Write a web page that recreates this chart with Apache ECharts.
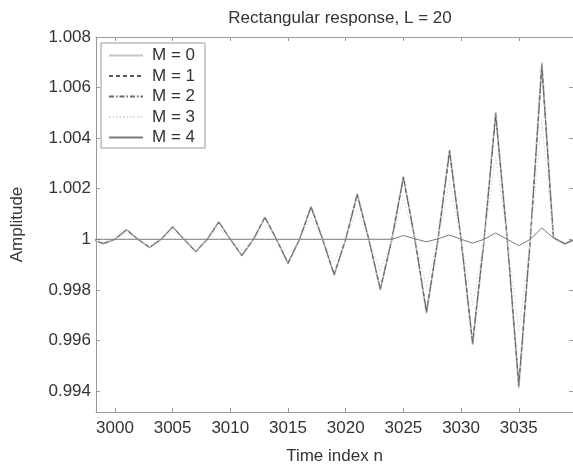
<!DOCTYPE html>
<html>
<head>
<meta charset="utf-8">
<script src="https://cdn.jsdelivr.net/npm/echarts@6/dist/echarts.min.js"></script>
<style>
  html, body { margin: 0; padding: 0; background: #fff; }
  #chart { width: 573px; height: 470px; }
</style>
</head>
<body>
<div id="chart"></div>
<script>
// Sample index n
const timeIndex = [
  2998, 2999, 3000, 3001, 3002, 3003, 3004, 3005, 3006, 3007,
  3008, 3009, 3010, 3011, 3012, 3013, 3014, 3015, 3016, 3017,
  3018, 3019, 3020, 3021, 3022, 3023, 3024, 3025, 3026, 3027,
  3028, 3029, 3030, 3031, 3032, 3033, 3034, 3035, 3036, 3037,
  3038, 3039, 3040
];

// Output amplitude for each order M
const ampM0 = [
  1.0, 0.99983, 1.0, 1.00038, 1.0, 0.99967, 1.0, 1.00049, 1.0, 0.99950,
  1.0, 1.00069, 1.0, 0.99935, 1.0, 1.00088, 1.0, 0.99904, 1.0, 1.00130,
  1.0, 0.99858, 1.0, 1.00180, 1.0, 0.99799, 1.0, 1.00249, 1.0, 0.99707,
  1.0, 1.00354, 1.0, 0.99582, 1.0, 1.00503, 1.0, 0.99411, 1.0, 1.00700,
  1.00007, 0.99982, 1.00005
];
const ampM1 = [
  1.0, 0.99983, 1.0, 1.00038, 1.0, 0.99967, 1.0, 1.00049, 1.0, 0.99951,
  1.0, 1.00068, 1.0, 0.99936, 1.0, 1.00087, 1.0, 0.99905, 1.0, 1.00129,
  1.0, 0.99860, 1.0, 1.00178, 1.0, 0.99802, 1.0, 1.00246, 1.0, 0.99711,
  1.0, 1.00350, 1.0, 0.99588, 1.0, 1.00497, 1.0, 0.99420, 1.0, 1.00690,
  1.00007, 0.99982, 1.00005
];
const ampM2 = [
  1.0, 0.99984, 1.0, 1.00037, 1.0, 0.99968, 1.0, 1.00048, 1.0, 0.99952,
  1.0, 1.00067, 1.0, 0.99937, 1.0, 1.00085, 1.0, 0.99907, 1.0, 1.00126,
  1.0, 0.99863, 1.0, 1.00174, 1.0, 0.99806, 1.0, 1.00240, 1.0, 0.99718,
  1.0, 1.00342, 1.0, 0.99598, 1.0, 1.00485, 1.0, 0.99432, 1.0, 1.00675,
  1.00006, 0.99983, 1.00005
];
const ampM3 = [
  1.0, 0.99989, 1.0, 1.00025, 1.0, 0.99979, 1.0, 1.00032, 1.0, 0.99968,
  1.0, 1.00045, 1.0, 0.99959, 1.0, 1.00057, 1.0, 0.99939, 1.0, 1.00084,
  1.0, 0.99910, 1.0, 1.00117, 1.0, 0.99872, 1.0, 1.00161, 1.0, 0.99813,
  1.0, 1.00229, 1.0, 0.99740, 1.0, 1.00326, 1.0, 0.99635, 1.0, 1.00465,
  1.00005, 0.99986, 1.00004
];
const ampM4 = [
  1.0, 1.0, 1.0, 1.0, 1.0, 1.0, 1.0, 1.0, 1.0, 1.0,
  1.0, 1.0, 1.0, 1.0, 1.0, 1.0, 1.0, 1.0, 1.0, 1.0,
  1.0, 1.0, 1.0, 1.0, 1.0, 1.0, 1.0, 1.00015, 1.00002, 0.99990,
  1.00002, 1.00017, 1.0, 0.99985, 1.0, 1.00025, 1.0, 0.99975, 1.0, 1.00045,
  1.00005, 0.99982, 1.0
];

const seriesNames = ['M = 0', 'M = 1', 'M = 2', 'M = 3', 'M = 4'];

// Axis ticks
const xTicks = [3000, 3005, 3010, 3015, 3020, 3025, 3030, 3035];
const yTicks = [0.994, 0.996, 0.998, 1.0, 1.002, 1.004, 1.006, 1.008];

const titleText = 'Rectangular response, L = 20';
const xLabel = 'Time index n';
const yLabel = 'Amplitude';

const FONT = 'Liberation Sans, Arial, sans-serif';
const AXIS_COLOR = '#9a9a9a';
const TEXT_COLOR = '#333';

function pairs(values) {
  return timeIndex.map((n, i) => [n, values[i]]);
}

const lineStyles = [
  { color: '#c4c4c4', width: 1.8, type: 'solid' },
  { color: '#5a5a5a', width: 1, type: [4, 3] },
  { color: '#6a6a6a', width: 1, type: [5, 2, 1.5, 2] },
  { color: '#d6d6d6', width: 1, type: [1.5, 2] },
  { color: '#7a7a7a', width: 1, type: 'solid' }
];
const seriesData = [ampM0, ampM1, ampM2, ampM3, ampM4];

const chart = echarts.init(document.getElementById('chart'), null, { renderer: 'canvas' });

const X_MIN = 2998.36, X_MAX = 3039.7;
const Y_MIN = 0.99317, Y_MAX = 1.008;

const tickFmt = v => String(+(+v).toFixed(3));

chart.setOption({
  animation: false,
  backgroundColor: '#fff',
  textStyle: { fontFamily: FONT },
  title: {
    text: titleText,
    left: 335,
    top: 5,
    textAlign: 'center',
    textStyle: { fontFamily: FONT, fontSize: 17, fontWeight: 'normal', color: TEXT_COLOR }
  },
  legend: {
    orient: 'vertical',
    left: 101,
    top: 43,
    padding: [4, 10, 2, 7],
    itemWidth: 34,
    itemHeight: 17,
    itemGap: 3.5,
    borderColor: AXIS_COLOR,
    borderWidth: 1,
    backgroundColor: '#fff',
    data: seriesNames,
    // line samples only, no marker glyph
    itemStyle: { opacity: 0, color: 'transparent', borderWidth: 0 },
    textStyle: { fontFamily: FONT, fontSize: 17, color: TEXT_COLOR, lineHeight: 17, padding: [0, 0, 0, 4] }
  },
  grid: { left: 96, top: 37, right: -2, bottom: 57, containLabel: false },
  xAxis: [
    {
      type: 'value',
      position: 'bottom',
      min: X_MIN,
      max: X_MAX,
      name: xLabel,
      nameLocation: 'middle',
      nameGap: 36,
      nameTextStyle: { fontFamily: FONT, fontSize: 17, color: TEXT_COLOR },
      axisLine: { show: true, onZero: false, lineStyle: { color: AXIS_COLOR, width: 1 } },
      axisTick: { show: true, inside: true, length: 4, customValues: xTicks, lineStyle: { color: AXIS_COLOR } },
      axisLabel: { show: true, customValues: xTicks, margin: 8, fontFamily: FONT, fontSize: 17, color: TEXT_COLOR, formatter: v => String(Math.round(v)) },
      splitLine: { show: false }
    },
    {
      type: 'value',
      position: 'top',
      min: X_MIN,
      max: X_MAX,
      axisLine: { show: true, onZero: false, lineStyle: { color: AXIS_COLOR, width: 1 } },
      axisTick: { show: true, inside: true, length: 4, customValues: xTicks, lineStyle: { color: AXIS_COLOR } },
      axisLabel: { show: false },
      splitLine: { show: false }
    }
  ],
  yAxis: [
    {
      type: 'value',
      position: 'left',
      min: Y_MIN,
      max: Y_MAX,
      name: yLabel,
      nameLocation: 'middle',
      nameGap: 70,
      nameRotate: 90,
      nameTextStyle: { fontFamily: FONT, fontSize: 17, color: TEXT_COLOR },
      axisLine: { show: true, onZero: false, lineStyle: { color: AXIS_COLOR, width: 1 } },
      axisTick: { show: true, inside: true, length: 4, customValues: yTicks, lineStyle: { color: AXIS_COLOR } },
      axisLabel: { show: true, customValues: yTicks, margin: 5, fontFamily: FONT, fontSize: 17, color: TEXT_COLOR, formatter: tickFmt },
      splitLine: { show: false }
    },
    {
      type: 'value',
      position: 'right',
      min: Y_MIN,
      max: Y_MAX,
      axisLine: { show: true, onZero: false, lineStyle: { color: AXIS_COLOR, width: 1 } },
      axisTick: { show: true, inside: true, length: 4, customValues: yTicks, lineStyle: { color: AXIS_COLOR } },
      axisLabel: { show: false },
      splitLine: { show: false }
    }
  ],
  series: seriesNames.map((name, i) => ({
    name,
    type: 'line',
    data: pairs(seriesData[i]),
    showSymbol: false,
    symbol: 'none',
    clip: true,
    lineStyle: lineStyles[i],
    itemStyle: { color: lineStyles[i].color },
    z: 2 + i
  }))
});
</script>
</body>
</html>
